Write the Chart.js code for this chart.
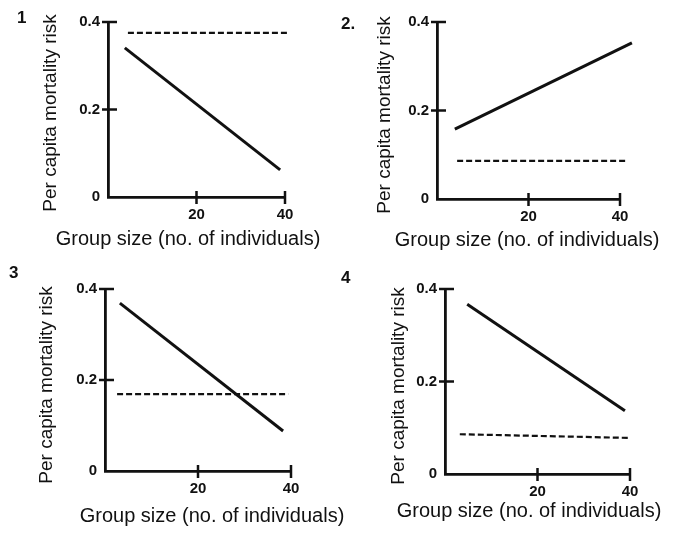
<!DOCTYPE html>
<html lang="en">
<head>
  <meta charset="UTF-8">
  <title>Per capita mortality risk vs group size</title>
  <script src="https://cdn.jsdelivr.net/npm/chart.js"></script>
  <style>
    body { margin: 0; background: #fff; }
    #wrap { position: relative; width: 678px; height: 535px; }
    #wrap canvas { position: absolute; left: 0; top: 0; }
    .num {
      position: absolute;
      font: bold 17px "Liberation Sans", Arial, sans-serif;
      color: #111;
      line-height: 1;
    }
  </style>
</head>
<body>
  <div id="wrap">
    <canvas id="c1" width="678" height="535"></canvas>
    <canvas id="c2" width="678" height="535"></canvas>
    <canvas id="c3" width="678" height="535"></canvas>
    <canvas id="c4" width="678" height="535"></canvas>
    <div class="num" style="left:17px;top:9px">1</div>
    <div class="num" style="left:341px;top:15px">2.</div>
    <div class="num" style="left:9px;top:264px">3</div>
    <div class="num" style="left:341px;top:269px">4</div>
  </div>

  <script>
    // axis ticks shared by all four panels
    const xTicks = [0, 20, 40];
    const yTicks = [0, 0.2, 0.4];
    const xTitle = 'Group size (no. of individuals)';
    const yTitle = 'Per capita mortality risk';

    // solid line (one per panel): group size -> risk
    const solidX = [[3.8, 38.9], [3.9, 42.6], [3.2, 38.3], [4.8, 38.9]];
    const solidY = [[0.341, 0.062], [0.158, 0.353], [0.369, 0.088], [0.367, 0.137]];
    // dashed line (one per panel)
    const dashX = [[4.5, 40.7], [4.4, 41.5], [2.6, 39.4], [3.2, 40]];
    const dashY = [[0.375, 0.375], [0.086, 0.086], [0.169, 0.169], [0.086, 0.078]];

    // where each panel sits on the page (plot area + axis titles)
    const panels = [
      { id: 'c1', l: 108, r: 285, t: 22,  b: 197, yt: [51, 113],  xt: [188, 239] },
      { id: 'c2', l: 437, r: 620, t: 22,  b: 199, yt: [385, 115], xt: [527, 240] },
      { id: 'c3', l: 105, r: 291, t: 289, b: 471, yt: [47, 385],  xt: [212, 516] },
      { id: 'c4', l: 445, r: 630, t: 289, b: 474, yt: [399, 386], xt: [529, 511] }
    ];

    const W = 678, H = 535, YW = 30, XH = 30;
    const ink = '#111';
    const font = '"Liberation Sans", Arial, sans-serif';

    // tick marks that cross the axis line
    const crossTicks = {
      id: 'crossTicks',
      afterDraw(chart) {
        const { ctx, chartArea, scales: { x, y } } = chart;
        ctx.save();
        ctx.strokeStyle = ink;
        ctx.lineWidth = 2.5;
        x.ticks.forEach(t => {
          if (t.value === 0) return;
          const px = x.getPixelForValue(t.value);
          ctx.beginPath();
          ctx.moveTo(px, chartArea.bottom - 6);
          ctx.lineTo(px, chartArea.bottom + 7);
          ctx.stroke();
        });
        y.ticks.forEach(t => {
          if (t.value === 0) return;
          const py = y.getPixelForValue(t.value);
          ctx.beginPath();
          ctx.moveTo(chartArea.left - 6, py);
          ctx.lineTo(chartArea.left + 9, py);
          ctx.stroke();
        });
        ctx.restore();
      }
    };

    // axis titles are wider than the plot, so they are drawn here
    const axisTitles = {
      id: 'axisTitles',
      afterDraw(chart, args, opts) {
        const ctx = chart.ctx;
        ctx.save();
        ctx.fillStyle = ink;
        ctx.textAlign = 'center';
        ctx.textBaseline = 'middle';
        ctx.font = '20px ' + font;
        ctx.fillText(xTitle, opts.xt[0], opts.xt[1]);
        ctx.translate(opts.yt[0], opts.yt[1]);
        ctx.rotate(-Math.PI / 2);
        ctx.font = '19px ' + font;
        ctx.fillText(yTitle, 0, 0);
        ctx.restore();
      }
    };

    function toPoints(xs, ys) {
      return xs.map((v, i) => ({ x: v, y: ys[i] }));
    }

    panels.forEach((p, i) => {
      new Chart(document.getElementById(p.id), {
        type: 'line',
        data: {
          datasets: [
            {
              data: toPoints(solidX[i], solidY[i]),
              borderColor: ink,
              borderWidth: 3,
              pointRadius: 0,
              clip: false
            },
            {
              data: toPoints(dashX[i], dashY[i]),
              borderColor: ink,
              borderWidth: 2.2,
              borderDash: [6, 3],
              pointRadius: 0,
              clip: false
            }
          ]
        },
        options: {
          responsive: false,
          animation: false,
          layout: {
            padding: { left: p.l - YW, right: W - p.r, top: p.t, bottom: H - p.b - XH }
          },
          plugins: {
            legend: { display: false },
            tooltip: { enabled: false },
            axisTitles: { xt: p.xt, yt: p.yt }
          },
          scales: {
            x: {
              type: 'linear',
              min: xTicks[0],
              max: xTicks[xTicks.length - 1],
              afterBuildTicks: s => { s.ticks = xTicks.map(v => ({ value: v })); },
              afterFit: s => { s.height = XH; },
              grid: { display: false, drawTicks: false },
              border: { display: true, color: ink, width: 2.8 },
              ticks: {
                padding: 9,
                color: ink,
                font: { family: font, size: 15, weight: 'bold' },
                callback: v => v === 0 ? '' : v
              }
            },
            y: {
              min: yTicks[0],
              max: yTicks[yTicks.length - 1],
              afterBuildTicks: s => { s.ticks = yTicks.map(v => ({ value: v })); },
              afterFit: s => { s.width = YW; },
              grid: { display: false, drawTicks: false },
              border: { display: true, color: ink, width: 2.8 },
              ticks: {
                padding: 8,
                color: ink,
                font: { family: font, size: 15, weight: 'bold' },
                callback: v => v === 0 ? '0' : v.toFixed(1)
              }
            }
          }
        },
        plugins: [crossTicks, axisTitles]
      });
    });
  </script>
</body>
</html>
